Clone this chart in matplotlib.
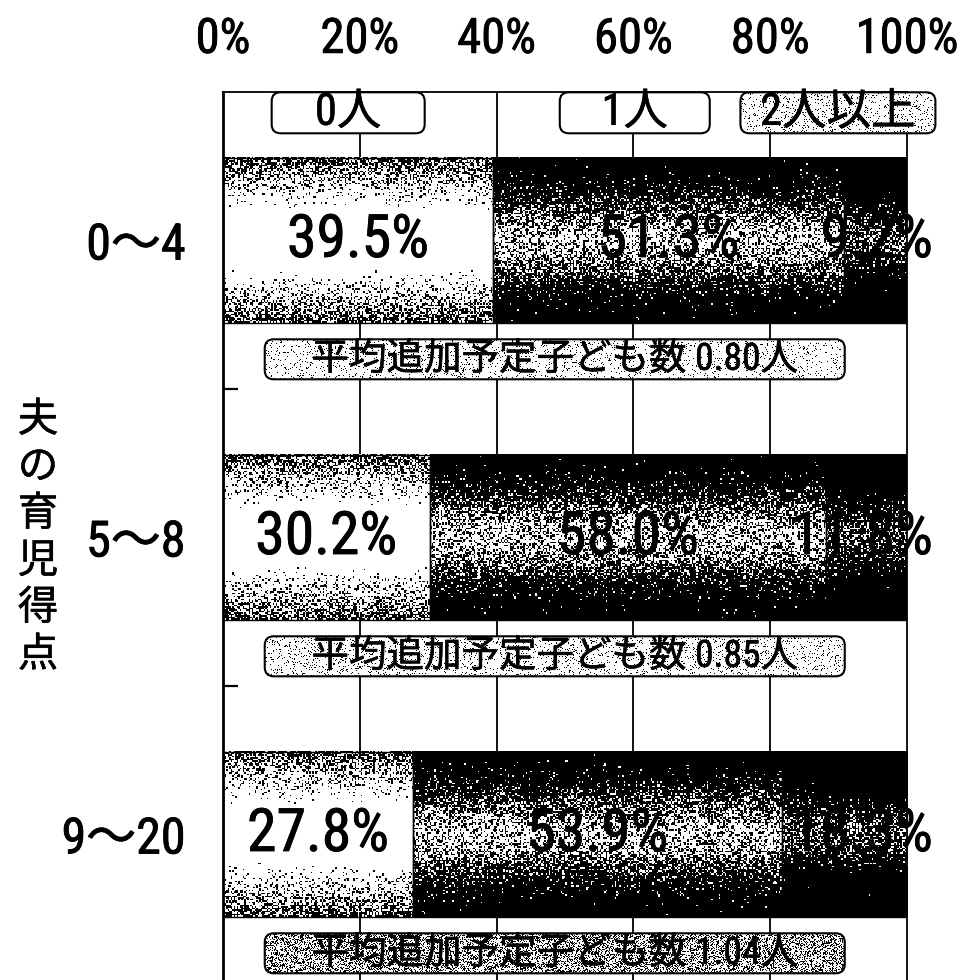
import numpy as np
import matplotlib
matplotlib.use("Agg")
import matplotlib.pyplot as plt
import matplotlib.patheffects as pe
from matplotlib.patches import FancyBboxPatch

# data
groups = ["0～4", "5～8", "9～20"]
series = ["0人", "1人", "2人以上"]
share_none = [39.5, 30.2, 27.8]
share_one = [51.3, 58.0, 53.9]
share_two_plus = [9.2, 11.8, 18.3]
mean_children = [0.80, 0.85, 1.04]
pct_ticks = [0, 20, 40, 60, 80, 100]
axis_title = "夫の育児得点"

FONT = ["Liberation Sans Narrow", "Roboto Condensed", "DejaVu Sans Condensed",
        "Liberation Sans", "Noto Sans CJK JP"]
W, H = 964, 980
rng = np.random.default_rng(11)
THICK = [pe.withStroke(linewidth=0.6, foreground="black")]
THIN = [pe.withStroke(linewidth=0.4, foreground="black")]


def dither(tone):
    # black/white speckle whose density follows the tone (1 = black)
    return np.where(rng.random(tone.shape) < tone, 0.0, 1.0)


def tone_none(v, u):
    edge = np.minimum(v, 1 - v)
    return 0.7 * np.clip(1 - edge / 0.33, 0, 1) ** 1.5 + 0 * u


def tone_one(v, u):
    return 1 - 0.7 * np.exp(-((v - 0.5) / 0.21) ** 2) + 0 * u


def tone_two(v, u):
    return 1 - 0.35 * np.exp(-((v - 0.5) / 0.14) ** 2) + 0 * u


fig = plt.figure(figsize=(W / 100, H / 100), dpi=100)
fig.patch.set_facecolor("white")
ax = fig.add_axes([223 / W, -3 / H, 684 / W, 891 / H])
ax.set_xlim(0, 100)
ax.set_ylim(2.5, -0.5)

# vertical grid
for t in pct_ticks[1:-1]:
    ax.axvline(t, color="black", lw=1.3, zorder=0.5)

px_x = 684 / 100
px_y = 891 / 3
grain = 1.5
ypos = np.arange(len(groups))
lefts = np.zeros(len(groups))
for vals, tone in zip([share_none, share_one, share_two_plus],
                      [tone_none, tone_one, tone_two]):
    bars = ax.barh(ypos, vals, left=lefts, height=0.556, facecolor="none",
                   edgecolor="black", lw=1.0, zorder=3)
    for b in bars:
        x0, y0, w, h = b.get_x(), b.get_y(), b.get_width(), b.get_height()
        nw = max(int(w * px_x / grain), 2)
        nh = max(int(h * px_y / grain), 2)
        v, u = np.mgrid[0:1:nh * 1j, 0:1:nw * 1j]
        ax.imshow(dither(tone(v, u)), extent=(x0, x0 + w, y0 + h, y0),
                  aspect="auto", cmap="gray", vmin=0, vmax=1,
                  interpolation="nearest", zorder=2)
    lefts += np.array(vals)

ax.set_xlim(0, 100)
ax.set_ylim(2.5, -0.5)

# value labels
for i in range(len(groups)):
    a, b, c = share_none[i], share_one[i], share_two_plus[i]
    ax.text(a / 2, i, f"{a:.1f}%", ha="center", va="center", fontsize=43,
            family=FONT, zorder=6, path_effects=THICK)
    ax.text(a + b / 2, i, f"{b:.1f}%", ha="center", va="center", fontsize=43,
            family=FONT, zorder=6, path_effects=THICK)
    ax.text(103.8, i, f"{c:.1f}%", ha="right", va="center", fontsize=43,
            family=FONT, zorder=6, clip_on=False, path_effects=THICK)

# axes styling
ax.xaxis.tick_top()
ax.set_xticks(pct_ticks)
ax.set_xticklabels([f"{t}%" for t in pct_ticks], family=FONT, fontsize=35,
                   path_effects=THICK)
ax.tick_params(axis="x", length=0, pad=21)
ax.set_yticks(ypos)
ax.set_yticklabels(groups, family=FONT, fontsize=36, path_effects=THICK)
ax.tick_params(axis="y", which="major", length=0, pad=27)
ax.set_yticks([0.5, 1.5], minor=True)
ax.tick_params(axis="y", which="minor", left=True, right=False,
               direction="in", length=11, width=1.6)
for s in ax.spines.values():
    s.set_color("black")
    s.set_linewidth(1.3)
ax.spines["left"].set_linewidth(2.0)

# overlay in pixel units for the rounded label boxes
ov = fig.add_axes([0, 0, 1, 1])
ov.set_xlim(0, W)
ov.set_ylim(0, H)
ov.set_autoscale_on(False)
ov.axis("off")


def label_box(cx, cy, w, h, text, tone, fs):
    x0, y0 = cx - w / 2, cy - h / 2
    patch = FancyBboxPatch((x0, y0), w, h,
                           boxstyle="round,pad=0,rounding_size=9",
                           fc="white", ec="none", zorder=4)
    ov.add_patch(patch)
    if tone > 0:
        im = ov.imshow(dither(np.full((int(h), int(w)), tone)),
                       extent=(x0, x0 + w, y0, y0 + h), aspect="auto",
                       cmap="gray", vmin=0, vmax=1,
                       interpolation="nearest", zorder=4.5)
        im.set_clip_path(patch)
    ov.add_patch(FancyBboxPatch((x0, y0), w, h,
                                boxstyle="round,pad=0,rounding_size=9",
                                fc="none", ec="black", lw=1.5, zorder=5))
    ov.text(cx, cy, text, ha="center", va="center", fontsize=fs,
            family=FONT, zorder=6, path_effects=THIN)


to_px = ax.transData.transform

# series labels above the bars
legend_x = [18.3, 60.2, 89.9]
legend_w = [153, 150, 195]
legend_tone = [0, 0, 0.1]
for name, lx, lw_, tn in zip(series, legend_x, legend_w, legend_tone):
    cx, cy = to_px((lx, -0.43))
    label_box(cx, cy, lw_, 41, name, tn, 32)

# average boxes under each bar
mean_tone = [0.08, 0.1, 0.38]
for i, m in enumerate(mean_children):
    cx, cy = to_px((48.5, i + 0.40))
    label_box(cx, cy, 580, 40, f"平均追加予定子ども数 {m:.2f}人", mean_tone[i], 27)

# vertical axis title, one character per line
_, mid = to_px((0, 1))
for k, ch in enumerate(axis_title):
    ov.text(38, mid - (k - 2.5) * 47, ch, ha="center", va="center",
            fontsize=29, family=FONT, path_effects=THIN)

fig.savefig("out.png", dpi=100)
